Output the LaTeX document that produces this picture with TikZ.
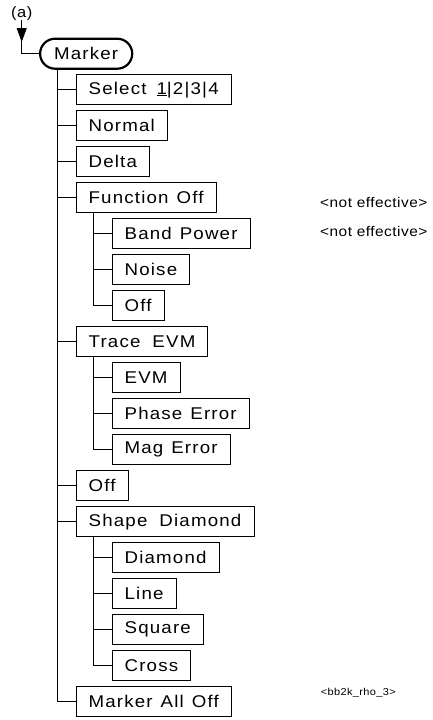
\documentclass[tikz,border=0pt]{standalone}
\usepackage{fontspec}
\setmainfont{Liberation Sans}
\newfontfamily\menufont[FakeStretch=1.1, LetterSpace=7, WordSpace=1.25]{Liberation Sans}
\newfontfamily\notefont[FakeStretch=1.1, LetterSpace=3.5]{Liberation Sans}
\usepackage{tikz}
\usetikzlibrary{arrows.meta}

\begin{document}
\begin{tikzpicture}[x=1pt, y=-1pt,
  key/.style={draw, line width=0.8pt, anchor=west, minimum height=30pt,
    inner xsep=12.5pt, inner ysep=0pt, font=\menufont\fontsize{17}{19}\selectfont},
  root/.style={key, line width=2.2pt, rounded corners=15pt, inner xsep=14pt},
  link/.style={line width=0.8pt},
  note/.style={anchor=west, inner sep=0pt, font=\notefont\fontsize{14}{16}\selectfont}
]
\useasboundingbox (0,0) rectangle (432,720);

% Einstieg
\node[inner sep=0pt, font=\notefont\fontsize{15}{17}\selectfont] (entry) at (21.7,13.3) {(a)};
\node[root] (marker) at (39,53.7) {Marker};
\coordinate (tip) at (21.7,42);
\draw[link] (entry.south) |- (marker.west);
\draw[link, -{Triangle[length=14pt, width=10pt]}] (entry.south) -- (tip);

% erste Ebene
\node[key] (sel) at (75.7,89.7) {Select\hspace{10pt}\underline{1}|2|3|4};
\node[key] (normal) at (75.7,125.7) {Normal};
\node[key] (delta) at (75.7,161.7) {Delta};
\node[key] (funcoff) at (75.7,197.7) {Function Off};
\node[key] (trace) at (75.7,341.7) {Trace\hspace{12pt}EVM};
\node[key] (off) at (75.7,485.7) {Off};
\node[key] (shape) at (75.7,521.7) {Shape\hspace{12pt}Diamond};
\node[key] (alloff) at (75.7,701.7) {Marker All Off};

% zweite Ebene
\node[key] (bandpow) at (111.7,233.7) {Band Power};
\node[key] (noise) at (111.7,269.7) {Noise};
\node[key] (fnoff) at (111.7,305.7) {Off};
\node[key] (evm) at (111.7,377.7) {EVM};
\node[key] (phase) at (111.7,413.7) {Phase Error};
\node[key] (mag) at (111.7,449.7) {Mag Error};
\node[key] (diamond) at (111.7,557.7) {Diamond};
\node[key] (line) at (111.7,593.7) {Line};
\node[key] (square) at (111.7,629.7) {Square};
\node[key] (cross) at (111.7,665.7) {Cross};

% Hinweise
\node[note] (ne1) at (320,202.7) {<not effective>};
\node[note] (ne2) at (320,231.5) {<not effective>};
\node[note, font=\notefont\fontsize{10}{12}\selectfont] (tag) at (320.7,693) {<bb2k\_rho\_3>};

% Verbindungen
\foreach \kid in {sel,normal,delta,funcoff,trace,off,shape,alloff}
  \draw[link] ([xshift=18.7pt]marker.south west) |- (\kid.west);
\foreach \kid in {bandpow,noise,fnoff}
  \draw[link] ([xshift=17.6pt]funcoff.south west) |- (\kid.west);
\foreach \kid in {evm,phase,mag}
  \draw[link] ([xshift=17.6pt]trace.south west) |- (\kid.west);
\foreach \kid in {diamond,line,square,cross}
  \draw[link] ([xshift=17.6pt]shape.south west) |- (\kid.west);

\end{tikzpicture}
\end{document}
